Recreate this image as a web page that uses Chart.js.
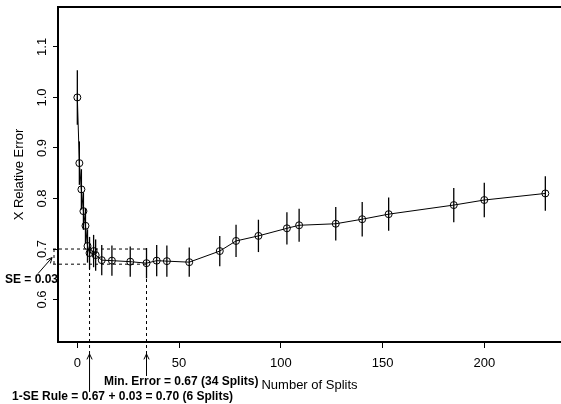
<!DOCTYPE html>
<html>
<head>
<meta charset="utf-8">
<script src="https://cdn.jsdelivr.net/npm/chart.js@4.4.1/dist/chart.umd.min.js"></script>
<style>
  html, body { margin: 0; padding: 0; background: #fff; }
  canvas { display: block; }
</style>
</head>
<body>
<canvas id="cpChart" width="561" height="404"></canvas>
<script>
// Cross-validated relative error by tree size
const splits = [0, 1, 2, 3, 4, 5, 6, 8, 9, 12, 17, 26, 34, 39, 44, 55, 70, 78, 89, 103, 109, 127, 140, 153, 185, 200, 230];
const relError = [1.0, 0.870, 0.818, 0.775, 0.746, 0.706, 0.692, 0.696, 0.688, 0.678, 0.677, 0.675, 0.672, 0.677, 0.676, 0.674, 0.696, 0.716, 0.726, 0.741, 0.747, 0.750, 0.759, 0.769, 0.787, 0.797, 0.810];
const stdErr = [0.054, 0.043, 0.040, 0.037, 0.035, 0.033, 0.032, 0.032, 0.031, 0.030, 0.030, 0.030, 0.030, 0.031, 0.031, 0.029, 0.030, 0.032, 0.032, 0.032, 0.0325, 0.033, 0.034, 0.033, 0.034, 0.034, 0.034];

const xTicks = [0, 50, 100, 150, 200];
const yTicks = [0.6, 0.7, 0.8, 0.9, 1.0, 1.1];

// 1-SE rule summary
const minError = 0.67;
const minSplits = 34;
const seValue = 0.03;
const seRule = 0.70;
const seSplits = 6;

const FONT = "'Liberation Sans', Arial, Helvetica, sans-serif";
Chart.defaults.font.family = FONT;
Chart.defaults.color = '#000';

function arrow(ctx, x0, y0, x1, y1) {
    const ang = Math.atan2(y1 - y0, x1 - x0);
    const len = 6, spread = Math.PI / 7;
    ctx.beginPath();
    ctx.moveTo(x0, y0);
    ctx.lineTo(x1, y1);
    ctx.moveTo(x1 - len * Math.cos(ang - spread), y1 - len * Math.sin(ang - spread));
    ctx.lineTo(x1, y1);
    ctx.lineTo(x1 - len * Math.cos(ang + spread), y1 - len * Math.sin(ang + spread));
    ctx.stroke();
}

const cpExtras = {
    id: 'cpExtras',
    beforeDatasetsDraw(chart) {
        const {ctx, scales: {x, y}} = chart;
        ctx.save();
        ctx.strokeStyle = '#000';
        ctx.lineWidth = 1.3;
        splits.forEach((s, i) => {
            const px = x.getPixelForValue(s);
            ctx.beginPath();
            ctx.moveTo(px, y.getPixelForValue(relError[i] - stdErr[i]));
            ctx.lineTo(px, y.getPixelForValue(relError[i] + stdErr[i]));
            ctx.stroke();
        });
        ctx.restore();
    },
    afterDraw(chart) {
        const {ctx, chartArea: area, scales: {x, y}} = chart;
        ctx.save();
        ctx.strokeStyle = '#000';

        // top of the frame
        ctx.lineWidth = 2;
        ctx.beginPath();
        ctx.moveTo(area.left - 1, area.top);
        ctx.lineTo(area.right, area.top);
        ctx.stroke();

        const xMin = x.getPixelForValue(minSplits);
        const xSe = x.getPixelForValue(seSplits);
        const yHi = y.getPixelForValue(seRule);
        const yLo = y.getPixelForValue(minError);
        const bracketX = area.left - 4;
        const tipY = area.bottom + 12;

        // dashed guide lines
        ctx.lineWidth = 1;
        ctx.setLineDash([3, 3]);
        ctx.beginPath();
        ctx.moveTo(bracketX - 1, yHi); ctx.lineTo(xMin, yHi);
        ctx.moveTo(bracketX - 1, yLo); ctx.lineTo(xMin, yLo);
        ctx.moveTo(bracketX, yHi); ctx.lineTo(bracketX, yLo);
        ctx.moveTo(xMin, yHi); ctx.lineTo(xMin, tipY);
        ctx.moveTo(xSe, yHi); ctx.lineTo(xSe, tipY);
        ctx.stroke();
        ctx.setLineDash([]);

        // arrows
        arrow(ctx, xSe, area.bottom + 50, xSe, tipY);
        arrow(ctx, xMin, area.bottom + 34, xMin, tipY);
        const midY = (yHi + yLo) / 2;
        arrow(ctx, bracketX - 16, midY + 17, bracketX - 2, midY + 1);

        // labels
        ctx.fillStyle = '#000';
        ctx.font = 'bold 12px ' + FONT;
        ctx.textBaseline = 'middle';
        ctx.textAlign = 'right';
        ctx.fillText('SE = ' + seValue.toFixed(2), area.left, yLo + 16);
        ctx.textAlign = 'left';
        ctx.fillText('Min. Error = ' + minError.toFixed(2) + ' (' + minSplits + ' Splits)', 104, area.bottom + 40);
        ctx.fillText('1-SE Rule = ' + minError.toFixed(2) + ' + ' + seValue.toFixed(2) + ' = ' + seRule.toFixed(2) + ' (' + seSplits + ' Splits)', 12, area.bottom + 55);
        ctx.restore();
    }
};

const cpChart = new Chart(document.getElementById('cpChart'), {
    type: 'scatter',
    data: {
        datasets: [{
            data: splits.map((s, i) => ({x: s, y: relError[i]})),
            showLine: true,
            borderColor: '#000',
            borderWidth: 1,
            pointRadius: 3.5,
            pointBorderWidth: 1,
            pointBorderColor: '#000',
            pointBackgroundColor: 'rgba(0,0,0,0)'
        }]
    },
    options: {
        responsive: false,
        animation: false,
        layout: {autoPadding: false, padding: {top: 7, left: 0, right: 0, bottom: 0}},
        plugins: {
            legend: {display: false},
            tooltip: {enabled: false}
        },
        scales: {
            x: {
                type: 'linear',
                min: -9.5,
                max: 237.7,
                afterBuildTicks: s => { s.ticks = xTicks.map(v => ({value: v})); },
                afterFit: s => { s.height = 62; s.paddingLeft = 0; s.paddingRight = 0; },
                border: {color: '#000', width: 2},
                grid: {drawOnChartArea: false, drawTicks: true, tickLength: 6, color: '#000', lineWidth: 1},
                ticks: {maxRotation: 0, autoSkip: false, padding: 8, color: '#000', font: {size: 13}},
                title: {display: true, text: 'Number of Splits', color: '#000', font: {size: 13}, padding: {top: 0, bottom: 11}}
            },
            y: {
                type: 'linear',
                min: 0.516,
                max: 1.179,
                afterBuildTicks: s => { s.ticks = yTicks.map(v => ({value: v})); },
                afterFit: s => { s.width = 58; s.paddingTop = 0; s.paddingBottom = 0; },
                border: {color: '#000', width: 2},
                grid: {drawOnChartArea: false, drawTicks: true, tickLength: 5, color: '#000', lineWidth: 1},
                ticks: {
                    minRotation: 90, maxRotation: 90, crossAlign: 'center', autoSkip: false,
                    padding: 2, color: '#000', font: {size: 13},
                    callback: v => v.toFixed(1)
                },
                title: {display: true, text: 'X Relative Error', color: '#000', font: {size: 13}, padding: {top: 12, bottom: 0}}
            }
        }
    },
    plugins: [cpExtras]
});
</script>
</body>
</html>
